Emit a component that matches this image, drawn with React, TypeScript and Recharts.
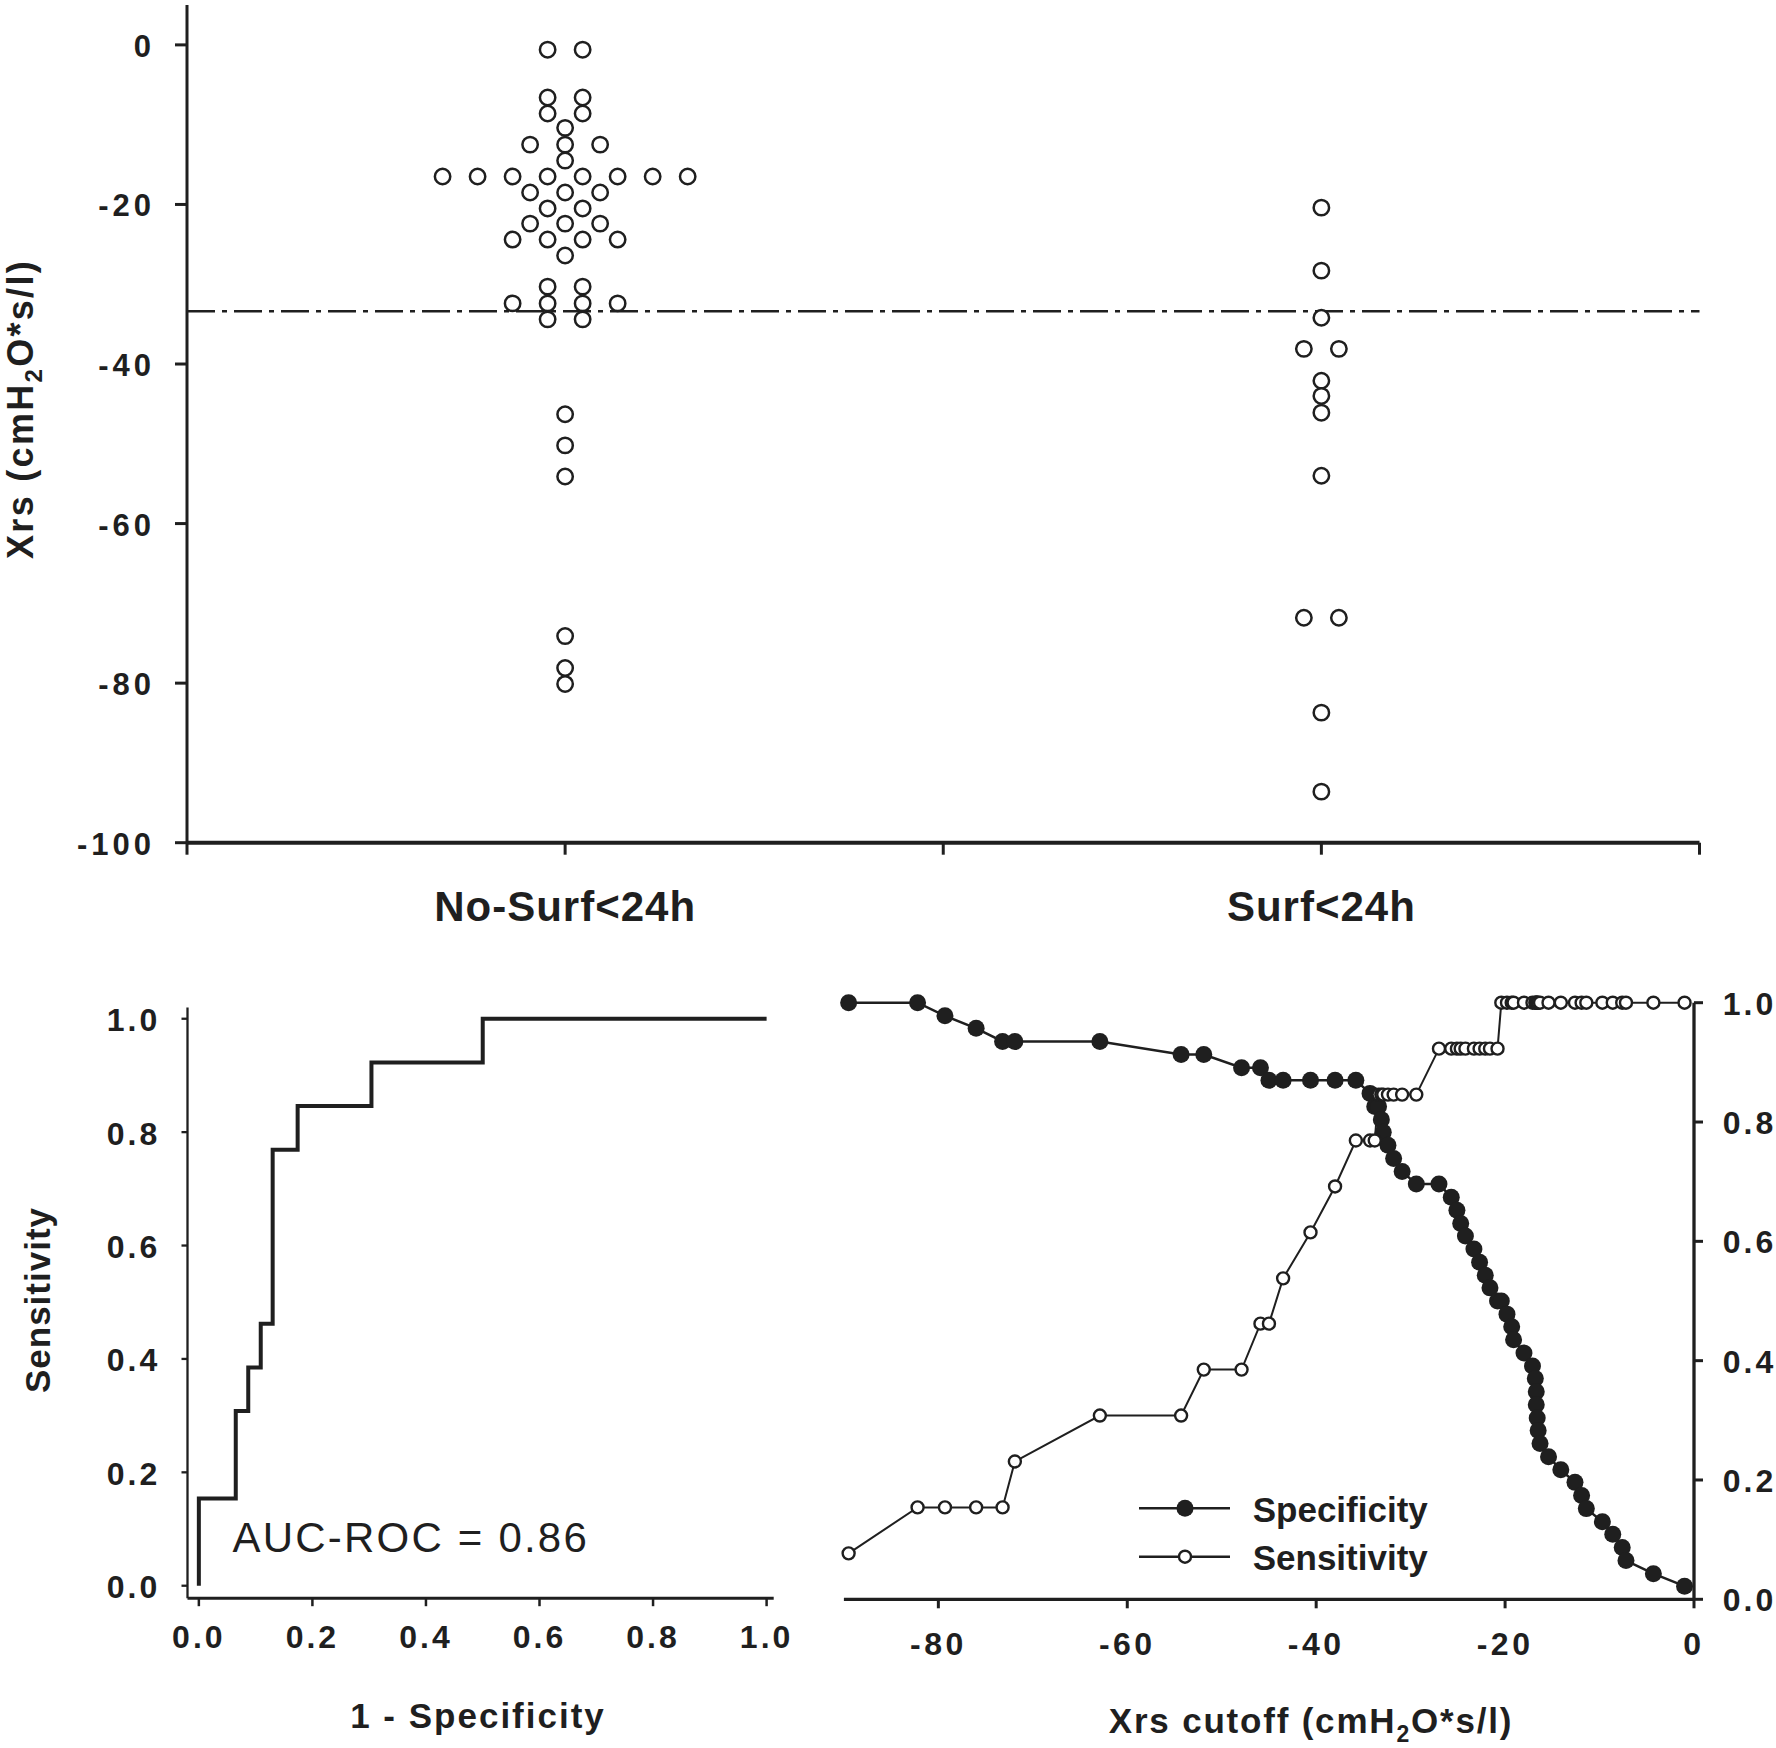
import {
  Label,
  Legend,
  Line,
  LineChart,
  ReferenceDot,
  ReferenceLine,
  Scatter,
  ScatterChart,
  XAxis,
  YAxis,
} from 'recharts'

const INK = '#1f1f1f'
const FONT = '"Liberation Sans", Arial, Helvetica, sans-serif'

// ---- top panel: Xrs per infant, dot plot by group ----
const GROUP_LABELS = ['No-Surf<24h', 'Surf<24h']
const GROUP_POS = [1, 3]
const noSurfXrs = [
  -0.6, -0.6, -6.6, -6.6, -8.6, -8.6, -10.4, -12.5, -12.5, -12.5, -14.5,
  -16.5, -16.5, -16.5, -16.5, -16.5, -16.5, -16.5, -16.5,
  -18.5, -18.5, -18.5, -20.5, -20.5, -22.4, -22.4, -22.4,
  -24.4, -24.4, -24.4, -24.4, -26.4, -30.3, -30.3,
  -32.4, -32.4, -32.4, -32.4, -34.4, -34.4,
  -46.3, -50.2, -54.1, -74.1, -78.1, -80.1,
]
// horizontal slot of each dot (dot plot columns)
const noSurfSlot = [
  -1, 1, -1, 1, -1, 1, 0, -2, 0, 2, 0,
  -7, -5, -3, -1, 1, 3, 5, 7,
  -2, 0, 2, -1, 1, -2, 0, 2,
  -3, -1, 1, 3, 0, -1, 1,
  -3, -1, 1, 3, -1, 1,
  0, 0, 0, 0, 0, 0,
]
const surfXrs = [-20.4, -28.3, -34.2, -38.1, -38.1, -42.1, -44.0, -46.1, -54.0, -71.8, -71.8, -83.7, -93.6]
const surfSlot = [0, 0, 0, -1, 1, 0, 0, 0, 0, -1, 1, 0, 0]
const XRS_TICKS = [0, -20, -40, -60, -80, -100]
const XRS_THRESHOLD = -33.4
const SLOT_WIDTH = 0.0463

// ---- bottom left: ROC curve ----
const rocFpr = [0, 0, 0.065, 0.087, 0.109, 0.13, 0.174, 0.304, 0.5, 1.0]
const rocTpr = [0, 0.154, 0.308, 0.385, 0.462, 0.769, 0.846, 0.923, 1.0, 1.0]
const UNIT_TICKS = [0, 0.2, 0.4, 0.6, 0.8, 1.0]
const AUC = 0.86

// ---- bottom right: specificity / sensitivity vs cutoff ----
const cutoffs = [
  -89.5, -82.2, -79.3, -76.0, -73.2, -71.9, -62.9, -54.3, -51.9, -47.9,
  -45.9, -45.0, -43.5, -40.6, -38.0, -35.8, -34.3, -33.8, -33.4, -33.1,
  -32.9, -32.4, -31.8, -30.9, -29.4, -27.0, -25.7, -25.1, -24.7, -24.2,
  -23.3, -22.7, -22.1, -21.6, -20.8, -20.4, -19.8, -19.3, -19.1, -18.0,
  -17.1, -16.8, -16.7, -16.7, -16.6, -16.5, -16.3, -15.4, -14.1, -12.6,
  -11.9, -11.4, -9.7, -8.6, -7.6, -7.2, -4.3, -1.0,
]
const specificity = [
  1.0, 1.0, 0.978, 0.957, 0.935, 0.935, 0.935, 0.913, 0.913, 0.891,
  0.891, 0.87, 0.87, 0.87, 0.87, 0.87, 0.848, 0.826, 0.826, 0.804,
  0.783, 0.761, 0.739, 0.717, 0.696, 0.696, 0.674, 0.652, 0.63, 0.609,
  0.587, 0.565, 0.543, 0.522, 0.5, 0.5, 0.478, 0.457, 0.435, 0.413,
  0.391, 0.37, 0.348, 0.326, 0.304, 0.283, 0.261, 0.239, 0.217, 0.196,
  0.174, 0.152, 0.13, 0.109, 0.087, 0.065, 0.043, 0.022,
]
const sensitivity = [
  0.077, 0.154, 0.154, 0.154, 0.154, 0.231, 0.308, 0.308, 0.385, 0.385,
  0.462, 0.462, 0.538, 0.615, 0.692, 0.769, 0.769, 0.769, 0.846, 0.846,
  0.846, 0.846, 0.846, 0.846, 0.846, 0.923, 0.923, 0.923, 0.923, 0.923,
  0.923, 0.923, 0.923, 0.923, 0.923, 1.0, 1.0, 1.0, 1.0, 1.0,
  1.0, 1.0, 1.0, 1.0, 1.0, 1.0, 1.0, 1.0, 1.0, 1.0,
  1.0, 1.0, 1.0, 1.0, 1.0, 1.0, 1.0, 1.0,
]
const CUTOFF_TICKS = [-80, -60, -40, -20, 0]

const noSurfPoints = noSurfXrs.map((v, i) => ({ x: GROUP_POS[0] + noSurfSlot[i] * SLOT_WIDTH, y: v }))
const surfPoints = surfXrs.map((v, i) => ({ x: GROUP_POS[1] + surfSlot[i] * SLOT_WIDTH, y: v }))
const rocData = rocFpr.map((f, i) => ({ fpr: f, tpr: rocTpr[i] }))
const cutoffData = cutoffs.map((c, i) => ({ cutoff: c, spec: specificity[i], sens: sensitivity[i] }))

const textBase = { fontFamily: FONT, fill: INK }
const axisStyle = (w: number) => ({ stroke: INK, strokeWidth: w })

function makeTick(
  dx: number,
  dy: number,
  anchor: 'start' | 'middle' | 'end',
  size: number,
  spacing: number,
  fmt: (v: number) => string,
) {
  return (props: any) => (
    <text
      x={props.x + dx}
      y={props.y + dy}
      textAnchor={anchor}
      letterSpacing={spacing}
      fontSize={size}
      fontWeight={700}
      {...textBase}
    >
      {fmt(props.payload.value)}
    </text>
  )
}

const oneDecimal = (v: number) => v.toFixed(1)

function GroupTick(props: any) {
  const i = GROUP_POS.indexOf(props.payload.value)
  if (i < 0) return <g />
  return (
    <text x={props.x} y={props.y + 66} textAnchor="middle" fontSize={42} fontWeight={700} letterSpacing={1} {...textBase}>
      {GROUP_LABELS[i]}
    </text>
  )
}

function OpenRing(props: any) {
  return <circle cx={props.cx} cy={props.cy} r={7.7} fill="#fff" stroke={INK} strokeWidth={2.5} />
}

function FilledDot(props: any) {
  return <circle key={`spec-${props.index}`} cx={props.cx} cy={props.cy} r={8.5} fill={INK} />
}

function OpenDot(props: any) {
  return <circle key={`sens-${props.index}`} cx={props.cx} cy={props.cy} r={6} fill="#fff" stroke={INK} strokeWidth={2.4} />
}

function DotPlot() {
  return (
    <ScatterChart width={1776} height={960} margin={{ top: 5, right: 76.5, bottom: 37.3, left: 67 }}>
      <XAxis
        type="number"
        dataKey="x"
        domain={[0, 4]}
        ticks={[0, 1, 2, 3, 4]}
        interval={0}
        height={80}
        tickSize={12}
        tickMargin={0}
        axisLine={axisStyle(4)}
        tickLine={axisStyle(3)}
        tick={GroupTick}
      />
      <YAxis
        type="number"
        dataKey="y"
        domain={[-100, 5]}
        ticks={XRS_TICKS}
        interval={0}
        width={120}
        tickSize={12}
        tickMargin={0}
        axisLine={axisStyle(3)}
        tickLine={axisStyle(3)}
        tick={makeTick(-20, 12, 'end', 31, 4, (v) => String(v))}
      >
        <Label
          content={() => (
            <text transform="translate(33 409) rotate(-90)" textAnchor="middle" fontSize={36} fontWeight={700} letterSpacing={2.3} {...textBase}>
              Xrs (cmH<tspan dy={9} fontSize={24}>2</tspan>
              <tspan dy={-9}>O*s/l)</tspan>
            </text>
          )}
        />
      </YAxis>
      <ReferenceLine y={XRS_THRESHOLD} stroke={INK} strokeWidth={2.5} strokeDasharray="28 7 5 7" />
      <Scatter data={noSurfPoints} shape={OpenRing} isAnimationActive={false} />
      <Scatter data={surfPoints} shape={OpenRing} isAnimationActive={false} />
    </ScatterChart>
  )
}

function RocPanel() {
  return (
    <LineChart width={830} height={798} data={rocData} margin={{ top: 57.4, right: 56.3, bottom: 69.8, left: 87.5 }}>
      <XAxis
        type="number"
        dataKey="fpr"
        domain={[-0.02, 1.0125]}
        ticks={UNIT_TICKS}
        interval={0}
        height={80}
        tickSize={8}
        tickMargin={0}
        axisLine={axisStyle(3)}
        tickLine={axisStyle(2.5)}
        tick={makeTick(0, 42, 'middle', 32, 3, oneDecimal)}
      >
        <Label
          content={() => (
            <text x={478} y={778.3} textAnchor="middle" fontSize={35} fontWeight={700} letterSpacing={2} {...textBase}>
              1 - Specificity
            </text>
          )}
        />
      </XAxis>
      <YAxis
        type="number"
        domain={[-0.022, 1.02]}
        ticks={UNIT_TICKS}
        interval={0}
        width={100}
        tickSize={6}
        tickMargin={0}
        axisLine={axisStyle(2.3)}
        tickLine={axisStyle(2.3)}
        tick={makeTick(-21.2, 12.5, 'end', 32, 3, oneDecimal)}
      >
        <Label
          content={() => (
            <text transform="translate(50 350) rotate(-90)" textAnchor="middle" fontSize={35} fontWeight={700} letterSpacing={1} {...textBase}>
              Sensitivity
            </text>
          )}
        />
      </YAxis>
      <ReferenceDot
        x={0.0594}
        y={0.06}
        r={0}
        stroke="none"
        label={{
          content: (p: any) => (
            <text x={p.viewBox.x} y={p.viewBox.y} fontSize={42} letterSpacing={2.2} {...textBase}>
              {`AUC-ROC = ${AUC.toFixed(2)}`}
            </text>
          ),
        }}
      />
      <Line
        dataKey="tpr"
        type="stepAfter"
        stroke={INK}
        strokeWidth={4}
        dot={false}
        activeDot={false}
        isAnimationActive={false}
      />
    </LineChart>
  )
}

function CutoffLegend() {
  const rows = [
    { label: 'Specificity', y: 558.3, filled: true },
    { label: 'Sensitivity', y: 606.7, filled: false },
  ]
  return (
    <svg width={946} height={798}>
      {rows.map((r) => (
        <g key={r.label}>
          <line x1={309} x2={400} y1={r.y} y2={r.y} stroke={INK} strokeWidth={2.5} />
          {r.filled ? (
            <circle cx={355} cy={r.y} r={8.5} fill={INK} />
          ) : (
            <circle cx={355} cy={r.y} r={6} fill="#fff" stroke={INK} strokeWidth={2.4} />
          )}
          <text x={422.7} y={r.y + 13.4} fontSize={35} fontWeight={700} {...textBase}>
            {r.label}
          </text>
        </g>
      ))}
    </svg>
  )
}

function CutoffPanel() {
  return (
    <LineChart width={946} height={798} data={cutoffData} margin={{ top: 52.7, right: 22, bottom: 68.7, left: 13.9 }}>
      <XAxis
        type="number"
        dataKey="cutoff"
        domain={[-90, 0]}
        ticks={CUTOFF_TICKS}
        interval={0}
        height={80}
        tickSize={9}
        tickMargin={0}
        axisLine={axisStyle(3.3)}
        tickLine={axisStyle(3)}
        tick={makeTick(0, 46.7, 'middle', 32, 3.5, (v) => String(v))}
      >
        <Label
          content={() => (
            <text x={481} y={783.3} textAnchor="middle" fontSize={35} fontWeight={700} letterSpacing={1.8} {...textBase}>
              Xrs cutoff (cmH<tspan dy={9} fontSize={23}>2</tspan>
              <tspan dy={-9}>O*s/l)</tspan>
            </text>
          )}
        />
      </XAxis>
      <YAxis
        orientation="right"
        type="number"
        domain={[0, 1]}
        ticks={UNIT_TICKS}
        interval={0}
        width={60}
        tickSize={9}
        tickMargin={0}
        axisLine={axisStyle(3.3)}
        tickLine={axisStyle(3)}
        tick={makeTick(19.7, 12, 'start', 32, 3, oneDecimal)}
      />
      <Legend
        layout="vertical"
        align="center"
        verticalAlign="middle"
        content={CutoffLegend}
        wrapperStyle={{ position: 'absolute', left: 0, top: 0, width: 946, height: 798, pointerEvents: 'none' }}
      />
      <Line
        name="Specificity"
        dataKey="spec"
        type="linear"
        stroke={INK}
        strokeWidth={2.5}
        dot={FilledDot}
        activeDot={false}
        isAnimationActive={false}
      />
      <Line
        name="Sensitivity"
        dataKey="sens"
        type="linear"
        stroke={INK}
        strokeWidth={2}
        dot={OpenDot}
        activeDot={false}
        isAnimationActive={false}
      />
    </LineChart>
  )
}

export default function App() {
  return (
    <div style={{ position: 'absolute', left: 0, top: 0, width: 1776, height: 1748, background: '#fff' }}>
      <div style={{ position: 'absolute', left: 0, top: 0 }}>
        <DotPlot />
      </div>
      <div style={{ position: 'absolute', left: 0, top: 950 }}>
        <RocPanel />
      </div>
      <div style={{ position: 'absolute', left: 830, top: 950 }}>
        <CutoffPanel />
      </div>
    </div>
  )
}
